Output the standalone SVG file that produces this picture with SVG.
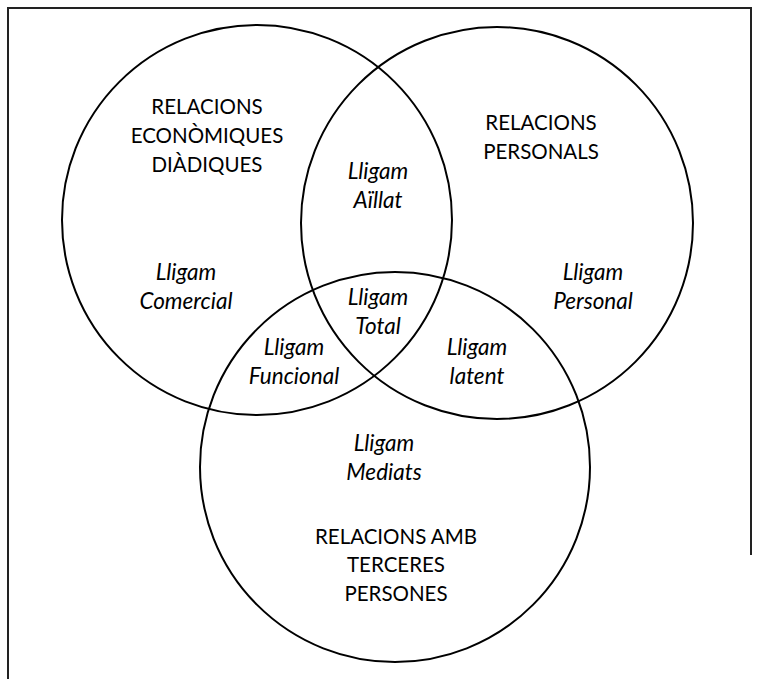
<svg xmlns="http://www.w3.org/2000/svg" width="762" height="679" viewBox="0 0 762 679">
  <style>
    .set { fill: none; stroke: #000; stroke-width: 2; }
    .frame { fill: none; stroke: #222; stroke-width: 2; }
    text { font-family: Lato, "Open Sans", "Liberation Sans", sans-serif; font-size: 20.5px; fill: #000; text-anchor: middle; }
    .link { font-style: italic; font-size: 22.5px; }
  </style>
  <rect width="762" height="679" fill="#fff"/>
  <!-- outer frame -->
  <path class="frame" d="M8 679 V8 H751 V555"/>
  <g id="connectors"></g>
  <!-- the three sets -->
  <g id="set-economiques">
    <circle class="set" cx="257" cy="220" r="195"/>
    <text x="207" y="114">RELACIONS</text>
    <text x="207" y="143">ECONÒMIQUES</text>
    <text x="207" y="172">DIÀDIQUES</text>
  </g>
  <g id="set-personals">
    <circle class="set" cx="497" cy="223" r="196"/>
    <text x="541" y="130">RELACIONS</text>
    <text x="541" y="159">PERSONALS</text>
  </g>
  <g id="set-terceres">
    <circle class="set" cx="395" cy="467" r="195"/>
    <text x="396" y="544">RELACIONS AMB</text>
    <text x="396" y="572">TERCERES</text>
    <text x="396" y="601">PERSONES</text>
  </g>
  <!-- regions -->
  <g id="lligam-comercial">
    <text class="link" x="186" y="280">Lligam</text>
    <text class="link" x="186" y="309">Comercial</text>
  </g>
  <g id="lligam-aillat">
    <text class="link" x="378" y="179">Lligam</text>
    <text class="link" x="378" y="208">Aïllat</text>
  </g>
  <g id="lligam-personal">
    <text class="link" x="593" y="280">Lligam</text>
    <text class="link" x="593" y="309">Personal</text>
  </g>
  <g id="lligam-total">
    <text class="link" x="378" y="305">Lligam</text>
    <text class="link" x="378" y="334">Total</text>
  </g>
  <g id="lligam-funcional">
    <text class="link" x="294" y="355">Lligam</text>
    <text class="link" x="294" y="384">Funcional</text>
  </g>
  <g id="lligam-latent">
    <text class="link" x="477" y="355">Lligam</text>
    <text class="link" x="477" y="384">latent</text>
  </g>
  <g id="lligam-mediats">
    <text class="link" x="384" y="451">Lligam</text>
    <text class="link" x="384" y="480">Mediats</text>
  </g>
</svg>
